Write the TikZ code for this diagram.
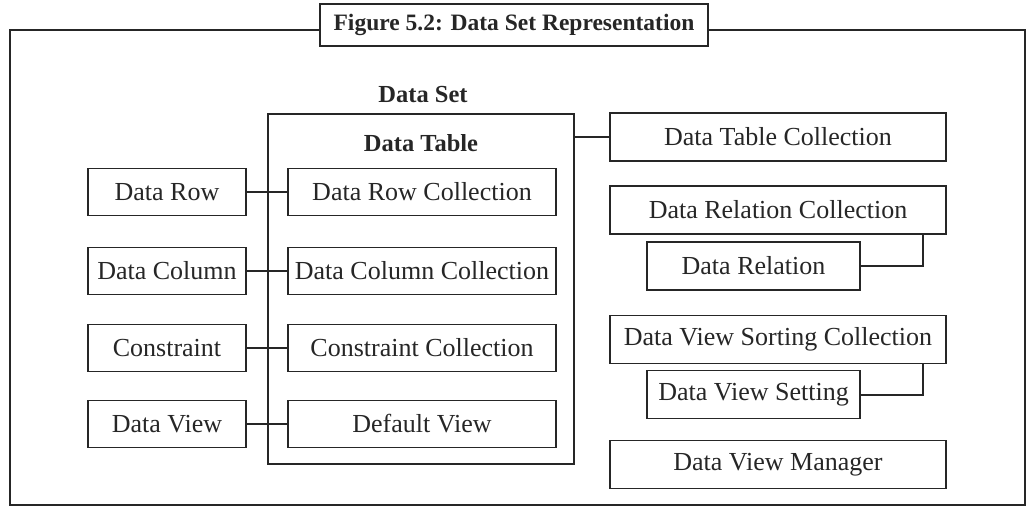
\documentclass[tikz,border=0pt]{standalone}
\usepackage{fontspec}
\setmainfont{Liberation Serif}
\usetikzlibrary{positioning}
\begin{document}
\begin{tikzpicture}[x=1pt,y=-1pt,
  box/.style={draw=black!85,line width=1.8pt,inner sep=0pt,font=\fontsize{26}{30}\selectfont,text=black!85},
  conn/.style={draw=black!85,line width=2pt},
  lbl/.style={font=\fontsize{24.5}{28}\selectfont\bfseries,text=black!85,inner sep=0pt}]
\useasboundingbox (0,0) rectangle (1029,507);
% outer frame
\node[draw=black!85,line width=2pt,minimum width=1015pt,minimum height=475pt,inner sep=0pt] (frame) at (517.5,267.5) {};
\node[box,fill=white,font=\fontsize{23.5}{26}\selectfont\bfseries,minimum width=388pt,minimum height=42pt] (title) at (514,25) {Figure 5.2: Data Set Representation};
% data set
\node[lbl] (dslbl) at (423,95) {Data Set};
\node[box,minimum width=306pt,minimum height=350pt] (dt) at (421,289) {};
\node[lbl] (dtlbl) at (421,143) {Data Table};
% inner boxes
\node[box,minimum width=268pt,minimum height=47pt] (drc) at (422,192) {Data Row Collection};
\node[box,minimum width=268pt,minimum height=47pt] (dcc) at (422,271) {Data Column Collection};
\node[box,minimum width=268pt,minimum height=47pt] (cc) at (422,348) {Constraint Collection};
\node[box,minimum width=268pt,minimum height=47pt] (dv) at (422,424) {Default View};
% left boxes
\node[box,minimum width=158pt,minimum height=47pt] (drow) at (167,192) {Data Row};
\node[box,minimum width=158pt,minimum height=47pt] (dcol) at (167,271) {Data Column};
\node[box,minimum width=158pt,minimum height=47pt] (cons) at (167,348) {Constraint};
\node[box,minimum width=158pt,minimum height=47pt] (dview) at (167,424) {Data View};
% right boxes
\node[box,minimum width=336pt,minimum height=48pt] (dtc) at (778,137) {Data Table Collection};
\node[box,minimum width=336pt,minimum height=48pt] (drelc) at (778,210) {Data Relation Collection};
\node[box,minimum width=213pt,minimum height=48pt] (drel) at (753.5,266) {Data Relation};
\node[box,minimum width=336pt,minimum height=48pt] (dvsc) at (778,339.5) {Data View Sorting Collection};
\node[box,minimum width=213pt,minimum height=48pt] (dvs) at (753.5,394.5) {Data View Setting};
\node[box,minimum width=336pt,minimum height=48pt] (dvm) at (778,464.5) {Data View Manager};
% connectors
\draw[conn] (drow.east) -- (drc.west);
\draw[conn] (dcol.east) -- (dcc.west);
\draw[conn] (cons.east) -- (cc.west);
\draw[conn] (dview.east) -- (dv.west);
\draw[conn] (dt.east |- dtc.west) -- (dtc.west);
\draw[conn] (drel.east) -| ([xshift=-24pt]drelc.south east);
\draw[conn] (dvs.east) -| ([xshift=-24pt]dvsc.south east);
\end{tikzpicture}
\end{document}
